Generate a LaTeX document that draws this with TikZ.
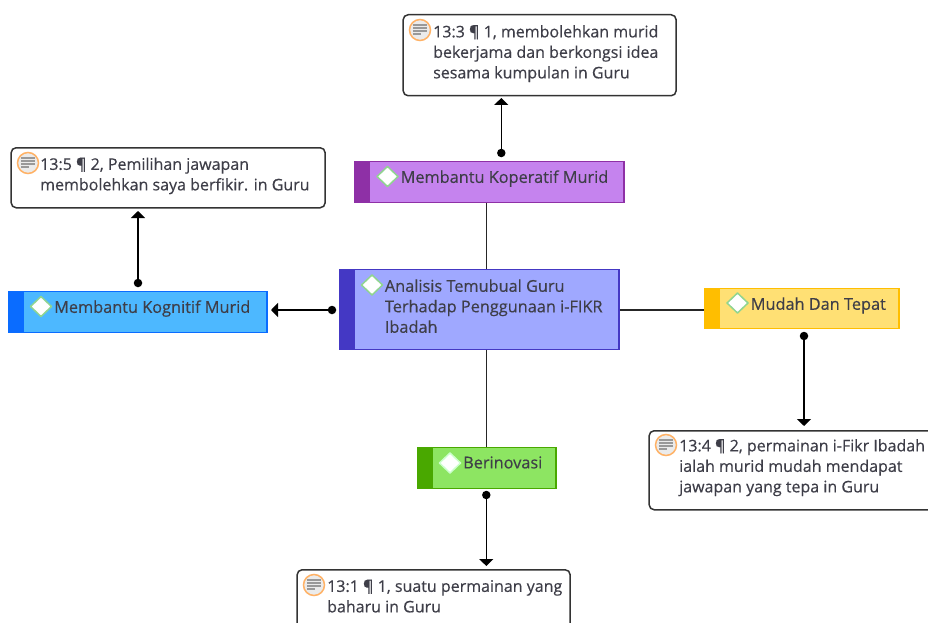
\documentclass[tikz,border=0pt]{standalone}
\usepackage{fontspec}
\setmainfont{Open Sans}
\newfontfamily\lblfont{Open Sans}[FakeBold=0.4]
\usetikzlibrary{arrows.meta,calc}
\definecolor{txt}{HTML}{3E3E48}
\definecolor{kopF}{HTML}{C583EE}\definecolor{kopB}{HTML}{8E30A6}
\definecolor{kogF}{HTML}{4DB8FF}\definecolor{kogB}{HTML}{0A6CFF}
\definecolor{cenF}{HTML}{9FA8FF}\definecolor{cenB}{HTML}{4438C4}
\definecolor{mudF}{HTML}{FFE074}\definecolor{mudB}{HTML}{FFBE00}
\definecolor{berF}{HTML}{8DE562}\definecolor{berB}{HTML}{49A800}
\tikzset{
  x=1pt,y=-1pt,
  code/.style args={#1/#2}{draw=#2,fill=#1,line width=1.4pt,inner sep=0pt,rectangle},
  quotebox/.style={draw=black!80,fill=white,line width=1.5pt,rounded corners=5pt,inner sep=0pt,rectangle},
  label/.style={anchor=north west,inner sep=0pt,align=left,text=txt,font=\lblfont\fontsize{16}{20.5}\selectfont},
  codelabel/.style={label,font=\lblfont\fontsize{16.3}{20.5}\selectfont},
  link/.style={black!85,line width=1.5pt},
  tip/.style={black,line width=1.5pt,-{Triangle[width=14pt,length=7pt]}},
  dot/.style={circle,fill=black,inner sep=0pt,minimum size=8.5pt},
  gem/.style={draw=#1,fill=white,line width=1.5pt,line join=round},
  ring/.style={draw=orange!60!white,fill=white!92!black,line width=1.5pt},
  rule/.style={gray!80,line width=1.1pt}
}
\newcommand{\codebox}[7]{% name,x1,y1,x2,y2,fill,border
  \node[code=#6/#7,minimum width=#4pt-#2pt,minimum height=#5pt-#3pt,anchor=north west] (#1) at (#2-0.7,#3-0.5) {};
  \fill[#7] (#2-0.7,#3-0.5) rectangle (#2+14.5,#5-0.5);
}
\newcommand{\gemicon}[3]{% x,y,colour
  \draw[gem=#3] (#1-10.5,#2) -- (#1,#2-10) -- (#1+10.5,#2) -- (#1,#2+10) -- cycle;
}
\newcommand{\noteicon}[2]{%
  \draw[ring] (#1,#2) circle (10.5);
  \foreach \i/\w in {-5/7,-2/7,1/7,4/4}{\draw[rule] (#1-7,#2+\i) -- (#1-7+2*\w,#2+\i);}
}
\begin{document}
\begin{tikzpicture}
\useasboundingbox (0,0) rectangle (928,623);
\clip (0,0) rectangle (928,623);
% coded boxes
\codebox{kop}{355}{161}{624}{202}{kopF}{kopB}
\codebox{kog}{9}{291}{267}{332}{kogF}{kogB}
\codebox{cen}{340}{269}{619}{349}{cenF}{cenB}
\codebox{mud}{705}{288}{899}{328}{mudF}{mudB}
\codebox{ber}{418}{447}{556}{488}{berF}{berB}
% quote boxes
\node[quotebox,minimum width=273pt,minimum height=81pt,anchor=north west] (q3) at (402.4,14) {};
\node[quotebox,minimum width=314pt,minimum height=60pt,anchor=north west] (q5) at (10.4,147) {};
\node[quotebox,minimum width=300pt,minimum height=79pt,anchor=north west] (q4) at (648.4,430) {};
\node[quotebox,minimum width=273pt,minimum height=80pt,anchor=north west] (q1) at (296.4,569) {};
% connector ends
\coordinate (v) at (486.3,310);
\node[dot] (d3) at (501.3,153) {};
\node[dot] (d5) at (138,283) {};
\node[dot] (dk) at (332,310) {};
\node[dot] (d4) at (804,336) {};
\node[dot] (d1) at (486.3,495) {};
\coordinate (t3) at (501.3,98);
\coordinate (t5) at (138,211);
\coordinate (t4) at (804,426);
\coordinate (t1) at (486.3,566);
\coordinate (tk) at (271,310);
% connectors
\draw[link] (kop.south -| v) -- (cen.north -| v);
\draw[link] (cen.south -| v) -- (ber.north -| v);
\draw[link] (cen.east |- v) -- (mud.west |- v);
\draw[tip] (d3.center) -- (t3);
\draw[tip] (d5.center) -- (t5);
\draw[tip] (dk.center) -- (tk);
\draw[tip] (d4.center) -- (t4);
\draw[tip] (d1.center) -- (t1);
% icons
\gemicon{387.5}{176.5}{green!45!gray!60!white}
\gemicon{41}{306.5}{green!45!gray!60!white}
\gemicon{372}{285}{green!45!gray!60!white}
\gemicon{737.5}{303}{green!45!gray!60!white}
\gemicon{450}{463}{green!20!white}
\noteicon{420}{30}
\noteicon{28}{163}
\noteicon{666}{445}
\noteicon{314}{585}
% texts
\node[codelabel] (tkop) at (400.5,170.2) {Membantu Koperatif Murid};
\node[codelabel] (tkog) at (54,300.2) {Membantu Kognitif Murid};
\node[codelabel] (tcen) at (384.7,279.2) {Analisis Temubual Guru\\Terhadap Penggunaan i-FIKR\\Ibadah};
\node[codelabel] (tmud) at (750.6,297.2) {Mudah Dan Tepat};
\node[codelabel] (tber) at (463,456.2) {Berinovasi};
\node[label] (tq3) at (433,25) {13:3 ¶ 1, membolehkan murid\\bekerjama dan berkongsi idea\\sesama kumpulan in Guru};
\node[label] (tq5) at (40,157.5) {13:5 ¶ 2, Pemilihan jawapan\\membolehkan saya berfikir. in Guru};
\node[label] (tq4) at (679,439) {13:4 ¶ 2, permainan i-Fikr Ibadah\\ialah murid mudah mendapat\\jawapan yang tepa in Guru};
\node[label] (tq1) at (327,579.5) {13:1 ¶ 1, suatu permainan yang\\baharu in Guru};
\end{tikzpicture}
\end{document}
